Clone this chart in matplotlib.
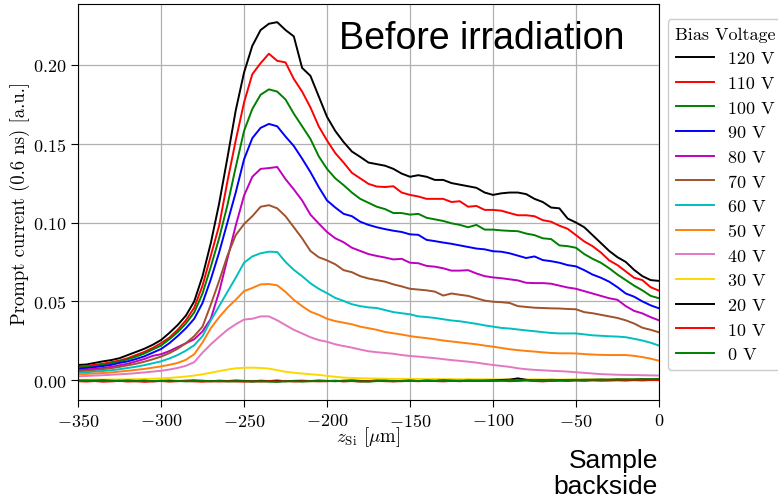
import numpy as np
import matplotlib
matplotlib.use("Agg")
import matplotlib.pyplot as plt
from matplotlib.ticker import FuncFormatter

plt.rcParams['font.family'] = ['cmr10', 'DejaVu Serif']
plt.rcParams['mathtext.fontset'] = 'cm'
plt.rcParams['axes.formatter.use_mathtext'] = True
plt.rcParams['axes.unicode_minus'] = False

z_um = np.arange(-350, 5, 5)

labels = ['120 V', '110 V', '100 V', '90 V', '80 V', '70 V', '60 V',
          '50 V', '40 V', '30 V', '20 V', '10 V', '0 V']
colors = ['black', 'red', 'green', 'blue', 'm', 'sienna', 'c',
          '#ff7f0e', '#e377c2', 'gold', 'black', 'red', 'green']

v120 = [0.0097, 0.010, 0.011, 0.012, 0.0128, 0.014, 0.016, 0.018, 0.020, 0.0225,
        0.0255, 0.030, 0.035, 0.041, 0.050, 0.066, 0.087, 0.112, 0.141, 0.171,
        0.195, 0.212, 0.222, 0.226, 0.227, 0.222, 0.218, 0.198, 0.193, 0.180,
        0.167, 0.158, 0.151, 0.145, 0.1416, 0.138, 0.137, 0.136, 0.134, 0.131,
        0.129, 0.130, 0.129, 0.127, 0.127, 0.125, 0.124, 0.123, 0.122, 0.119,
        0.1175, 0.1185, 0.119, 0.119, 0.118, 0.115, 0.113, 0.1095, 0.109, 0.1025,
        0.100, 0.097, 0.092, 0.087, 0.082, 0.078, 0.075, 0.070, 0.066, 0.0635, 0.063]
v110 = [0.0085, 0.009, 0.0098, 0.0105, 0.0115, 0.0125, 0.014, 0.016, 0.018, 0.0205,
        0.0235, 0.027, 0.032, 0.038, 0.046, 0.060, 0.079, 0.098, 0.126, 0.152,
        0.176, 0.194, 0.201, 0.207, 0.2025, 0.2015, 0.191, 0.183, 0.173, 0.161,
        0.152, 0.144, 0.138, 0.1315, 0.128, 0.1245, 0.1228, 0.1225, 0.123, 0.119,
        0.1175, 0.1165, 0.115, 0.115, 0.115, 0.113, 0.1135, 0.110, 0.1105, 0.108,
        0.108, 0.1075, 0.106, 0.1046, 0.1046, 0.104, 0.1015, 0.1005, 0.098, 0.096,
        0.092, 0.088, 0.085, 0.081, 0.076, 0.073, 0.069, 0.065, 0.0635, 0.059, 0.0568]
v100 = [0.008, 0.0085, 0.009, 0.0098, 0.0108, 0.012, 0.0133, 0.015, 0.017, 0.0195,
        0.022, 0.026, 0.0305, 0.036, 0.043, 0.055, 0.072, 0.090, 0.111, 0.135,
        0.158, 0.172, 0.181, 0.1844, 0.183, 0.178, 0.169, 0.161, 0.153, 0.142,
        0.134, 0.128, 0.1237, 0.119, 0.115, 0.1125, 0.110, 0.1085, 0.106, 0.106,
        0.105, 0.1055, 0.103, 0.102, 0.101, 0.0995, 0.0985, 0.097, 0.0985, 0.0955,
        0.0955, 0.095, 0.0947, 0.0945, 0.093, 0.092, 0.090, 0.0895, 0.0855, 0.085,
        0.084, 0.080, 0.077, 0.0745, 0.071, 0.067, 0.0635, 0.060, 0.057, 0.0535, 0.052]
v90 = [0.0072, 0.0077, 0.0083, 0.009, 0.0098, 0.011, 0.012, 0.0135, 0.0152, 0.0175,
       0.0198, 0.0235, 0.028, 0.033, 0.039, 0.049, 0.064, 0.081, 0.100, 0.119,
       0.140, 0.1535, 0.160, 0.1625, 0.161, 0.1545, 0.1485, 0.1405, 0.132, 0.1225,
       0.114, 0.1095, 0.1055, 0.104, 0.1005, 0.0985, 0.097, 0.0958, 0.0948, 0.094,
       0.0925, 0.0922, 0.089, 0.0882, 0.0873, 0.0865, 0.0855, 0.0845, 0.0835, 0.083,
       0.0818, 0.0815, 0.0805, 0.079, 0.0775, 0.0785, 0.0762, 0.0755, 0.0745, 0.073,
       0.0722, 0.0698, 0.067, 0.065, 0.0625, 0.059, 0.055, 0.053, 0.050, 0.0475, 0.0456]
v80 = [0.0063, 0.0068, 0.0073, 0.0078, 0.0085, 0.0095, 0.0105, 0.012, 0.0135, 0.0155,
       0.0165, 0.0185, 0.021, 0.0235, 0.026, 0.031, 0.039, 0.056, 0.077, 0.098,
       0.117, 0.129, 0.134, 0.1345, 0.1352, 0.1275, 0.121, 0.114, 0.105, 0.0994,
       0.094, 0.090, 0.0875, 0.084, 0.082, 0.080, 0.0788, 0.0778, 0.0766, 0.077,
       0.0745, 0.0742, 0.0725, 0.072, 0.071, 0.0695, 0.0695, 0.0698, 0.0677, 0.066,
       0.0652, 0.0647, 0.064, 0.0633, 0.0618, 0.0616, 0.0616, 0.0612, 0.060, 0.0588,
       0.058, 0.0565, 0.055, 0.0535, 0.052, 0.051, 0.047, 0.044, 0.0424, 0.040, 0.038]
v70 = [0.0057, 0.006, 0.0065, 0.007, 0.0077, 0.0085, 0.0095, 0.0105, 0.0118, 0.0133,
       0.015, 0.0172, 0.020, 0.0235, 0.028, 0.034, 0.048, 0.063, 0.079, 0.092,
       0.099, 0.104, 0.110, 0.111, 0.109, 0.104, 0.097, 0.090, 0.082, 0.078,
       0.076, 0.0735, 0.0698, 0.0685, 0.066, 0.0645, 0.0635, 0.0625, 0.0608, 0.0595,
       0.058, 0.0575, 0.057, 0.0562, 0.0537, 0.055, 0.0542, 0.0535, 0.052, 0.0505,
       0.0498, 0.0495, 0.049, 0.047, 0.0465, 0.046, 0.0458, 0.0456, 0.0455, 0.0452,
       0.045, 0.0432, 0.0425, 0.0415, 0.0405, 0.0395, 0.038, 0.036, 0.0333, 0.032, 0.0304]
v60 = [0.0048, 0.0051, 0.0055, 0.0059, 0.0064, 0.007, 0.0078, 0.0086, 0.0096, 0.0108,
       0.012, 0.0138, 0.016, 0.0188, 0.0222, 0.028, 0.038, 0.047, 0.056, 0.065,
       0.0745, 0.0785, 0.0805, 0.0815, 0.0813, 0.075, 0.070, 0.066, 0.0615, 0.058,
       0.0552, 0.0522, 0.0503, 0.0482, 0.047, 0.0462, 0.0458, 0.0445, 0.0432, 0.0425,
       0.0418, 0.0405, 0.0401, 0.0395, 0.0387, 0.0379, 0.0374, 0.0366, 0.0358, 0.0348,
       0.034, 0.0332, 0.0328, 0.0322, 0.0316, 0.0311, 0.0305, 0.030, 0.0297, 0.0297,
       0.0297, 0.0291, 0.0285, 0.0282, 0.0279, 0.0277, 0.0273, 0.0263, 0.0252, 0.0238, 0.022]
v50 = [0.0038, 0.004, 0.0043, 0.0046, 0.005, 0.0055, 0.006, 0.0066, 0.0072, 0.008,
       0.0088, 0.0098, 0.011, 0.013, 0.0165, 0.024, 0.033, 0.040, 0.046, 0.051,
       0.0565, 0.0585, 0.0608, 0.061, 0.0602, 0.056, 0.051, 0.047, 0.0435, 0.0415,
       0.039, 0.0375, 0.0365, 0.0355, 0.034, 0.033, 0.032, 0.0306, 0.0298, 0.029,
       0.028, 0.0273, 0.0267, 0.026, 0.0252, 0.0246, 0.024, 0.0234, 0.0228, 0.022,
       0.0213, 0.0205, 0.0197, 0.0191, 0.0186, 0.0182, 0.0177, 0.0173, 0.0171, 0.0171,
       0.017, 0.0166, 0.0163, 0.0161, 0.016, 0.016, 0.016, 0.0155, 0.0147, 0.0137, 0.0124]
v40 = [0.0025, 0.0027, 0.003, 0.0032, 0.0035, 0.0038, 0.0041, 0.0045, 0.005, 0.0055,
       0.006, 0.0068, 0.0078, 0.0092, 0.0115, 0.0175, 0.0228, 0.0275, 0.032, 0.0355,
       0.0385, 0.039, 0.0405, 0.0405, 0.038, 0.035, 0.032, 0.0297, 0.0273, 0.0255,
       0.0244, 0.0228, 0.0217, 0.0207, 0.0195, 0.0184, 0.0178, 0.0173, 0.0168, 0.016,
       0.0154, 0.015, 0.0145, 0.014, 0.0134, 0.0128, 0.0123, 0.0118, 0.0112, 0.0104,
       0.0097, 0.0091, 0.0085, 0.0076, 0.007, 0.0066, 0.0063, 0.006, 0.0058, 0.0055,
       0.0051, 0.0047, 0.0043, 0.0039, 0.0037, 0.0035, 0.0034, 0.0033, 0.0032, 0.0031, 0.003]
v30 = [0.0003, 0.0003, 0.0004, 0.0004, 0.0005, 0.0005, 0.0006, 0.0007, 0.0008, 0.001,
       0.0012, 0.0015, 0.0019, 0.0024, 0.003, 0.0038, 0.0048, 0.0058, 0.0068, 0.0076,
       0.0079, 0.008, 0.0078, 0.0074, 0.0064, 0.0054, 0.0048, 0.0043, 0.0038, 0.0034,
       0.0028, 0.0022, 0.0017, 0.0015, 0.0013, 0.0012, 0.0011, 0.001, 0.0009, 0.0009,
       0.0008, 0.0008, 0.0007, 0.0008, 0.0007, 0.0007, 0.0006, 0.0007, 0.0006, 0.0006,
       0.0006, 0.0005, 0.0006, 0.0005, 0.0005, 0.0006, 0.0005, 0.0005, 0.0004, 0.0005,
       0.0005, 0.0004, 0.0005, 0.0004, 0.0004, 0.0005, 0.0004, 0.0004, 0.0004, 0.0004, 0.0004]
v20 = [-0.0003, -0.0002, -0.0004, -0.0001, -0.0003, -0.0005, -0.0002, -0.0004, -0.0003, -0.0006,
       -0.0004, -0.0002, -0.0005, -0.0003, -0.0001, -0.0004, -0.0006, -0.0003, -0.0005, -0.0002,
       -0.0004, -0.0007, -0.0003, -0.0005, -0.0002, -0.0006, -0.0004, -0.0003, -0.0005, -0.0002,
       -0.0004, -0.0006, -0.0003, -0.0001, -0.0004, -0.0005, -0.0002, -0.0003, -0.0006, -0.0004,
       -0.0002, -0.0005, -0.0003, -0.0004, -0.0001, -0.0003, -0.0005, -0.0002, -0.0004, -0.0003,
       -0.0001, 0.0002, 0.0004, 0.0012, 0.0003, -0.0002, 0.0001, -0.0003, 0.0000, 0.0002,
       0.0001, 0.0003, 0.0002, 0.0004, 0.0002, 0.0005, 0.0003, 0.0004, 0.0006, 0.0005, 0.0006]
v10 = [-0.0006, -0.0008, -0.0005, -0.0009, -0.0007, -0.0004, -0.0008, -0.0006, -0.0010, -0.0007,
       -0.0005, -0.0008, -0.0006, -0.0004, -0.0007, -0.0009, -0.0006, -0.0008, -0.0005, -0.0007,
       -0.0009, -0.0006, -0.0008, -0.0005, -0.0007, -0.0004, -0.0008, -0.0006, -0.0005, -0.0007,
       -0.0006, -0.0004, -0.0007, -0.0005, -0.0008, -0.0006, -0.0004, -0.0006, -0.0007, -0.0005,
       -0.0004, -0.0006, -0.0003, -0.0005, -0.0007, -0.0004, -0.0006, -0.0003, -0.0005, -0.0004,
       -0.0005, -0.0003, -0.0006, -0.0004, -0.0002, -0.0005, -0.0007, -0.0004, -0.0003, -0.0005,
       -0.0002, -0.0004, -0.0001, -0.0003, -0.0002, 0.0000, -0.0002, 0.0001, -0.0001, 0.0002, 0.0001]
v0 = [-0.0002, -0.0004, -0.0001, -0.0003, -0.0005, -0.0002, -0.0004, -0.0006, -0.0003, -0.0005,
      -0.0003, -0.0006, -0.0004, -0.0007, -0.0005, -0.0003, -0.0006, -0.0004, -0.0008, -0.0006,
      -0.0005, -0.0008, -0.0006, -0.0009, -0.0010, -0.0007, -0.0005, -0.0008, -0.0006, -0.0004,
      -0.0005, -0.0003, -0.0006, -0.0004, -0.0007, -0.0009, -0.0005, -0.0003, -0.0004, -0.0006,
      -0.0003, -0.0005, -0.0002, -0.0004, -0.0001, -0.0003, -0.0002, -0.0004, -0.0001, -0.0002,
      0.0000, -0.0002, 0.0001, -0.0001, 0.0002, 0.0000, 0.0001, 0.0003, 0.0001, 0.0002,
      0.0003, 0.0002, 0.0004, 0.0003, 0.0005, 0.0004, 0.0006, 0.0005, 0.0006, 0.0007, 0.0008]

series = [v120, v110, v100, v90, v80, v70, v60, v50, v40, v30, v20, v10, v0]

fig = plt.figure(figsize=(7.78, 5.02), dpi=100)
ax = fig.add_axes([0.1003, 0.2012, 0.7467, 0.7888])

for vals, lab, col in zip(series, labels, colors):
    ax.plot(z_um, vals, color=col, lw=1.4, label=lab)

ax.set_xlim(-350, 0)
ax.set_ylim(-0.0125, 0.2385)
ax.set_xticks([-350, -300, -250, -200, -150, -100, -50, 0])
ax.set_yticks([0.0, 0.05, 0.10, 0.15, 0.20])
ax.xaxis.set_major_formatter(FuncFormatter(lambda v, p: r'$%d$' % v))
ax.yaxis.set_major_formatter(FuncFormatter(lambda v, p: r'$%.2f$' % v))
ax.tick_params(labelsize=13, length=5, direction='out')
ax.grid(True, color='#b0b0b0', lw=0.9)
ax.set_axisbelow(True)

ax.set_ylabel('Prompt current (0.6 ns) [a.u.]', fontsize=13.5, labelpad=2)
ax.set_xlabel(r'$z_\mathrm{Si}$ [$\mu$m]', fontsize=13.5, labelpad=-3)

leg = ax.legend(title='Bias Voltage', loc='upper left', bbox_to_anchor=(1.015, 0.962),
                borderaxespad=0, fontsize=13, title_fontsize=13, handlelength=2.1,
                framealpha=1, fancybox=True)

ax.text(0.695, 0.915, 'Before irradiation', transform=ax.transAxes, ha='center',
        va='center', fontsize=27, family='Liberation Sans')
fig.text(658 / 778, 1 - 449 / 502, 'Sample\nbackside', ha='right', va='top',
         fontsize=19, family='Liberation Sans', linespacing=1.1)

fig.savefig('out.png', dpi=100)
